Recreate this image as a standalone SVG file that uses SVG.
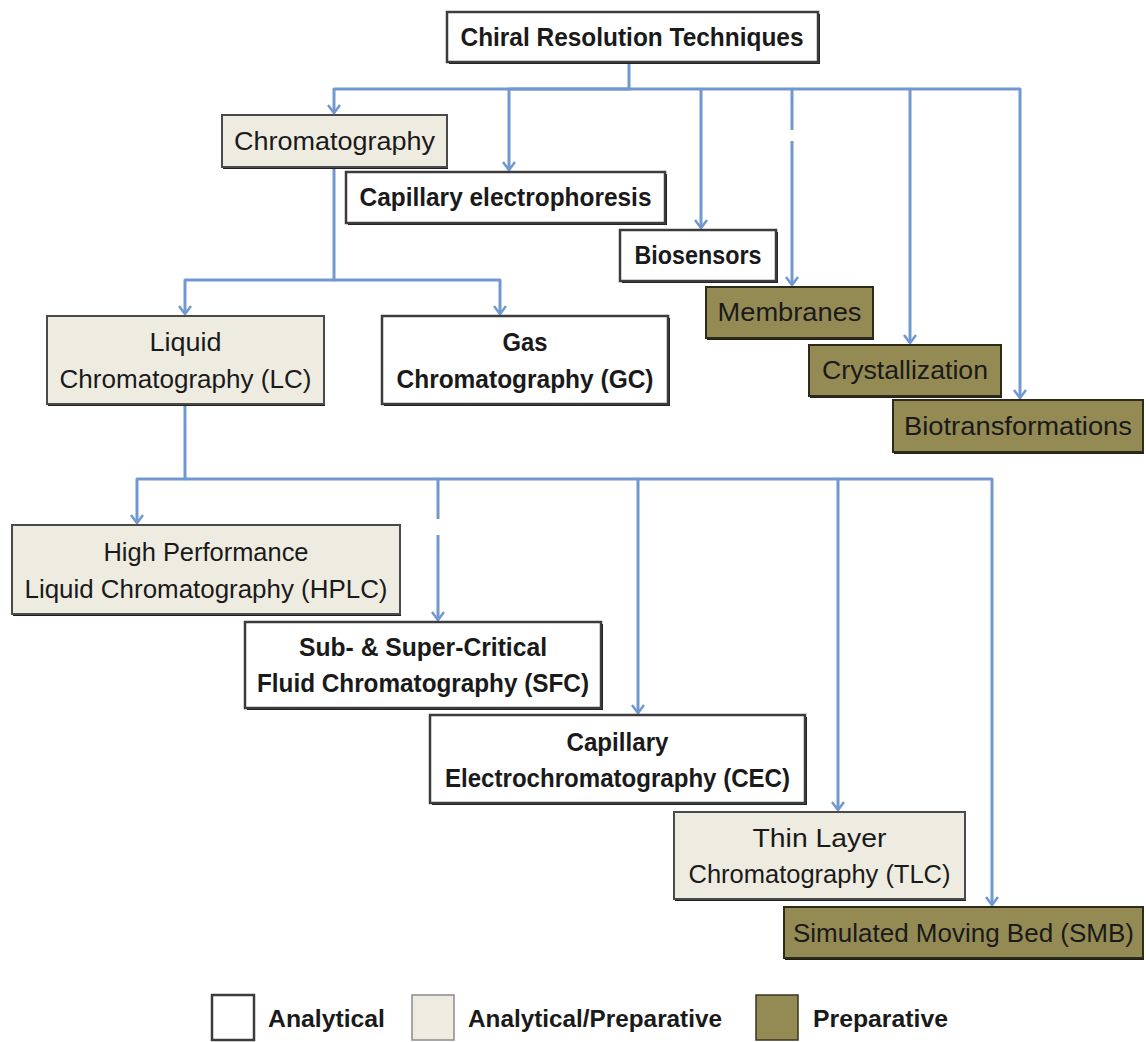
<svg xmlns="http://www.w3.org/2000/svg" width="1146" height="1042" viewBox="0 0 1146 1042">
<defs>
<style>
.sh{fill:#1e1e1e}
.an{fill:#ffffff;stroke:#3c3c3c;stroke-width:2.5}
.ap{fill:#EEECE1;stroke:#4a4a4a;stroke-width:2}
.pr{fill:#948A54;stroke:#2e2a18;stroke-width:2}
.t{font-family:"Liberation Sans",Arial,sans-serif;font-size:26px;fill:#1a1a1a;text-anchor:middle}
.b{font-weight:bold}
.c{fill:none;stroke:#7199D0;stroke-width:3;stroke-linejoin:round}
.lg{font-family:"Liberation Sans",Arial,sans-serif;font-size:24px;font-weight:bold;fill:#1a1a1a}
</style>
<marker id="ah" viewBox="-10 -8 12 16" refX="0" refY="0" markerWidth="12" markerHeight="16" markerUnits="userSpaceOnUse" orient="auto">
<path d="M-8,-6 L0,0 L-8,6" fill="none" stroke="#7199D0" stroke-width="2.5"/>
</marker>
</defs>
<rect width="1146" height="1042" fill="#ffffff"/>

<g id="connectors">
<path class="c" d="M629,62 V89 H334 V113" marker-end="url(#ah)"/>
<path class="c" d="M629,89 H509 V170" marker-end="url(#ah)"/>
<path class="c" d="M629,89 H701 V228" marker-end="url(#ah)"/>
<path class="c" d="M701,89 H792 V130"/>
<path class="c" d="M792,141 V285" marker-end="url(#ah)"/>
<path class="c" d="M792,89 H910 V343" marker-end="url(#ah)"/>
<path class="c" d="M910,89 H1020 V398" marker-end="url(#ah)"/>
<path class="c" d="M334,167 V280 H185 V314" marker-end="url(#ah)"/>
<path class="c" d="M334,280 H500 V314" marker-end="url(#ah)"/>
<path class="c" d="M185,404 V479 H137 V523" marker-end="url(#ah)"/>
<path class="c" d="M185,479 H438 V519"/>
<path class="c" d="M438,535 V620" marker-end="url(#ah)"/>
<path class="c" d="M438,479 H638 V713" marker-end="url(#ah)"/>
<path class="c" d="M638,479 H838 V810" marker-end="url(#ah)"/>
<path class="c" d="M838,479 H992 V905" marker-end="url(#ah)"/>
</g>

<g id="root">
<rect class="sh" x="449" y="14" width="371" height="50"/>
<rect class="an" x="447" y="12" width="371" height="50"/>
<text class="t b" x="632" y="46" textLength="343" lengthAdjust="spacingAndGlyphs">Chiral Resolution Techniques</text>
</g>

<g id="chromatography">
<rect class="sh" x="223" y="117" width="225" height="52"/>
<rect class="ap" x="222" y="115" width="225" height="52"/>
<text class="t" x="334.5" y="150" textLength="201" lengthAdjust="spacingAndGlyphs">Chromatography</text>
</g>

<g id="capillary-electrophoresis">
<rect class="sh" x="348" y="174" width="319" height="51"/>
<rect class="an" x="346" y="172" width="319" height="51"/>
<text class="t b" x="505.5" y="206" textLength="292" lengthAdjust="spacingAndGlyphs">Capillary electrophoresis</text>
</g>

<g id="biosensors">
<rect class="sh" x="622" y="232" width="156" height="51"/>
<rect class="an" x="620" y="230" width="156" height="51"/>
<text class="t b" x="698" y="264" textLength="127" lengthAdjust="spacingAndGlyphs">Biosensors</text>
</g>

<g id="membranes">
<rect class="sh" x="707" y="289" width="167" height="51"/>
<rect class="pr" x="706" y="287" width="167" height="51"/>
<text class="t" x="789.5" y="321" textLength="144" lengthAdjust="spacingAndGlyphs">Membranes</text>
</g>

<g id="crystallization">
<rect class="sh" x="810" y="347" width="192" height="51"/>
<rect class="pr" x="809" y="345" width="192" height="51"/>
<text class="t" x="905" y="379" textLength="166" lengthAdjust="spacingAndGlyphs">Crystallization</text>
</g>

<g id="biotransformations">
<rect class="sh" x="894" y="402" width="250" height="52"/>
<rect class="pr" x="893" y="400" width="250" height="52"/>
<text class="t" x="1018" y="435" textLength="228" lengthAdjust="spacingAndGlyphs">Biotransformations</text>
</g>

<g id="lc">
<rect class="sh" x="48" y="318" width="277" height="88"/>
<rect class="ap" x="47" y="316" width="277" height="88"/>
<text class="t" x="185.5" y="351" textLength="72" lengthAdjust="spacingAndGlyphs">Liquid</text>
<text class="t" x="185.5" y="388" textLength="252" lengthAdjust="spacingAndGlyphs">Chromatography (LC)</text>
</g>

<g id="gc">
<rect class="sh" x="384" y="318" width="286" height="88"/>
<rect class="an" x="382" y="316" width="286" height="88"/>
<text class="t b" x="525" y="351" textLength="45" lengthAdjust="spacingAndGlyphs">Gas</text>
<text class="t b" x="525" y="388" textLength="257" lengthAdjust="spacingAndGlyphs">Chromatography (GC)</text>
</g>

<g id="hplc">
<rect class="sh" x="13" y="527" width="388" height="89"/>
<rect class="ap" x="12" y="525" width="388" height="89"/>
<text class="t" x="206" y="561" textLength="205" lengthAdjust="spacingAndGlyphs">High Performance</text>
<text class="t" x="206" y="598" textLength="363" lengthAdjust="spacingAndGlyphs">Liquid Chromatography (HPLC)</text>
</g>

<g id="sfc">
<rect class="sh" x="247" y="624" width="356" height="86"/>
<rect class="an" x="245" y="622" width="356" height="86"/>
<text class="t b" x="423" y="656" textLength="248" lengthAdjust="spacingAndGlyphs">Sub- &amp; Super-Critical</text>
<text class="t b" x="423" y="692" textLength="332" lengthAdjust="spacingAndGlyphs">Fluid Chromatography (SFC)</text>
</g>

<g id="cec">
<rect class="sh" x="432" y="717" width="375" height="88"/>
<rect class="an" x="430" y="715" width="375" height="88"/>
<text class="t b" x="617.5" y="751" textLength="102" lengthAdjust="spacingAndGlyphs">Capillary</text>
<text class="t b" x="617.5" y="787" textLength="345" lengthAdjust="spacingAndGlyphs">Electrochromatography (CEC)</text>
</g>

<g id="tlc">
<rect class="sh" x="675" y="814" width="291" height="87"/>
<rect class="ap" x="674" y="812" width="291" height="87"/>
<text class="t" x="819.5" y="847" textLength="134" lengthAdjust="spacingAndGlyphs">Thin Layer</text>
<text class="t" x="819.5" y="883" textLength="262" lengthAdjust="spacingAndGlyphs">Chromatography (TLC)</text>
</g>

<g id="smb">
<rect class="sh" x="785" y="909" width="359" height="51"/>
<rect class="pr" x="784" y="907" width="359" height="51"/>
<text class="t" x="963.5" y="942" textLength="341" lengthAdjust="spacingAndGlyphs">Simulated Moving Bed (SMB)</text>
</g>

<g id="legend">
<rect x="212" y="995" width="42" height="45" fill="#ffffff" stroke="#3c3c3c" stroke-width="2.5"/>
<text class="lg" x="268" y="1027" textLength="117" lengthAdjust="spacingAndGlyphs">Analytical</text>
<rect x="412" y="995" width="42" height="45" fill="#EEECE1" stroke="#8a8a8a" stroke-width="1.5"/>
<text class="lg" x="468" y="1027" textLength="254" lengthAdjust="spacingAndGlyphs">Analytical/Preparative</text>
<rect x="756" y="995" width="42" height="45" fill="#948A54" stroke="#3a3520" stroke-width="1.5"/>
<text class="lg" x="813" y="1027" textLength="135" lengthAdjust="spacingAndGlyphs">Preparative</text>
</g>
</svg>
